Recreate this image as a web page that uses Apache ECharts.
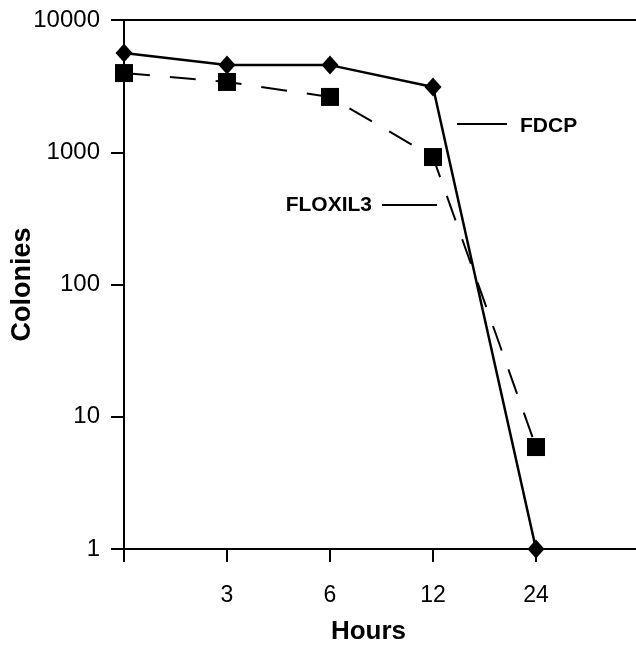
<!DOCTYPE html>
<html>
<head>
<meta charset="utf-8">
<script src="https://cdn.jsdelivr.net/npm/echarts@6/dist/echarts.min.js"></script>
<style>
html,body{margin:0;padding:0;background:#fff;}
#chart{width:636px;height:647px;}
</style>
</head>
<body>
<div id="chart"></div>
<script>
const hourLabels = ['', '3', '6', '12', '24', ''];
const fdcp = [5630, 4560, 4560, 3110, 1, null];
const floxil3 = [3970, 3400, 2620, 920, 5.9, null];
const yMin = 1;
const yMax = 10000;

const FONT = '"Liberation Sans", Arial, Helvetica, sans-serif';
const chart = echarts.init(document.getElementById('chart'), null, {renderer: 'canvas'});

chart.setOption({
  backgroundColor: '#fff',
  animation: false,
  grid: {left: 124, top: 20, width: 515, height: 529, containLabel: false, outerBoundsMode: 'none'},
  xAxis: [{
    type: 'category',
    data: hourLabels,
    boundaryGap: false,
    position: 'bottom',
    axisLine: {lineStyle: {color: '#000', width: 2}},
    axisTick: {show: true, length: 13, lineStyle: {color: '#000', width: 2}, interval: 0},
    axisLabel: {color: '#000', fontSize: 23, fontFamily: FONT, margin: 35, interval: 0},
    splitLine: {show: false},
    name: 'Hours',
    nameLocation: 'middle',
    nameGap: 70,
    nameMoveOverlap: false,
    nameTextStyle: {color: '#000', fontSize: 26, fontWeight: 'bold', fontFamily: FONT, padding: [0, 26, 0, 0]}
  }, {
    type: 'category',
    data: hourLabels,
    boundaryGap: false,
    position: 'top',
    axisLine: {lineStyle: {color: '#000', width: 2}},
    axisTick: {show: false},
    axisLabel: {show: false},
    splitLine: {show: false}
  }],
  yAxis: {
    type: 'log',
    logBase: 10,
    min: yMin,
    max: yMax,
    axisLine: {show: true, lineStyle: {color: '#000', width: 2}},
    axisTick: {show: true, length: 13, lineStyle: {color: '#000', width: 2}},
    axisLabel: {color: '#000', fontSize: 24, fontFamily: FONT, margin: 24, formatter: v => String(v)},
    splitLine: {show: false},
    name: 'Colonies',
    nameLocation: 'middle',
    nameRotate: 90,
    nameGap: 88,
    nameMoveOverlap: false,
    nameTextStyle: {color: '#000', fontSize: 27, fontWeight: 'bold', fontFamily: FONT}
  },
  series: [{
    name: 'FLOXIL3',
    type: 'line',
    data: floxil3,
    symbol: 'rect',
    symbolSize: 18,
    itemStyle: {color: '#000'},
    lineStyle: {color: '#000', width: 2, type: [26, 20]},
    z: 2
  }, {
    name: 'FDCP',
    type: 'line',
    data: fdcp,
    symbol: 'diamond',
    symbolSize: [17, 19],
    itemStyle: {color: '#000'},
    lineStyle: {color: '#000', width: 2.5},
    z: 3
  }],
  graphic: [
    {type: 'line', shape: {x1: 457, y1: 124, x2: 507, y2: 124}, style: {stroke: '#000', lineWidth: 2}},
    {type: 'text', x: 520, y: 126, style: {text: 'FDCP', fill: '#000', font: 'bold 21px ' + FONT, textVerticalAlign: 'middle', verticalAlign: 'middle'}},
    {type: 'line', shape: {x1: 382, y1: 205, x2: 437, y2: 205}, style: {stroke: '#000', lineWidth: 2}},
    {type: 'text', x: 372, y: 205, style: {text: 'FLOXIL3', fill: '#000', font: 'bold 21px ' + FONT, align: 'right', textAlign: 'right', verticalAlign: 'middle', textVerticalAlign: 'middle'}}
  ]
});
</script>
</body>
</html>
